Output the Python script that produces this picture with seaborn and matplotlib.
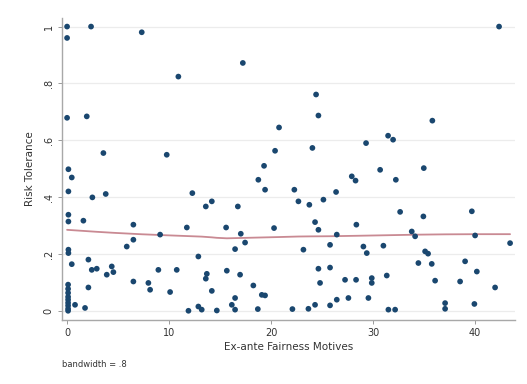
import numpy as np
import pandas as pd
import matplotlib
matplotlib.use("Agg")
import matplotlib.pyplot as plt
import seaborn as sns

# Ex-ante fairness motives (x) and risk tolerance (y) per respondent
fairness = [
    0.0, 2.35, 0.0, 7.32, 10.91, 0.0, 1.93, 3.56, 9.77, 0.13,
    0.46, 0.13, 2.48, 3.79, 12.28, 13.6, 0.13, 0.13, 1.6, 6.5,
    11.74, 9.12, 6.5, 5.85, 0.13, 0.13, 12.87, 0.46, 2.09, 2.42,
    2.91, 4.38, 4.54, 3.89, 8.95, 10.75, 13.6, 6.5, 7.97, 8.14,
    10.1, 2.09, 0.1, 0.1, 0.1, 0.1, 0.1, 0.1, 0.1, 0.1,
    0.1, 0.78, 1.76, 11.9, 12.87, 13.2, 17.23, 24.41, 24.64, 20.78,
    20.39, 24.05, 19.31, 42.35, 35.81, 31.47, 31.96, 29.31, 30.69, 34.97,
    18.75, 19.41, 22.28, 27.91, 28.28, 26.37, 25.13, 22.68, 23.75, 14.19,
    16.74, 15.59, 17.03, 17.45, 16.47, 20.29, 24.31, 24.64, 26.44, 25.78,
    28.36, 23.17, 24.64, 25.78, 24.8, 13.7, 15.66, 16.96, 14.19, 18.26,
    19.09, 19.41, 16.47, 16.15, 16.47, 14.68, 18.7, 22.09, 23.66, 24.31,
    25.78, 26.44, 27.58, 27.25, 28.33, 32.23, 32.65, 34.93, 39.68, 33.79,
    34.12, 40.0, 43.43, 29.05, 29.38, 31.01, 35.1, 35.39, 34.44, 35.75,
    39.02, 29.87, 29.87, 31.34, 36.08, 38.53, 40.17, 41.96, 29.54, 31.5,
    32.16, 37.06, 37.06, 39.93,
]
risk = [
    1.0, 1.0, 0.96, 0.98, 0.824, 0.679, 0.684, 0.555, 0.549, 0.498,
    0.469, 0.42, 0.399, 0.411, 0.414, 0.367, 0.338, 0.314, 0.317, 0.303,
    0.293, 0.268, 0.25, 0.226, 0.215, 0.203, 0.191, 0.164, 0.18, 0.144,
    0.148, 0.156, 0.136, 0.127, 0.144, 0.144, 0.113, 0.103, 0.098, 0.074,
    0.066, 0.082, 0.092, 0.077, 0.063, 0.049, 0.039, 0.028, 0.018, 0.007,
    0.0, 0.021, 0.01, 0.0, 0.015, 0.004, 0.872, 0.761, 0.687, 0.645,
    0.563, 0.573, 0.51, 1.0, 0.669, 0.616, 0.602, 0.59, 0.496, 0.502,
    0.461, 0.426, 0.426, 0.473, 0.458, 0.418, 0.391, 0.385, 0.373, 0.385,
    0.367, 0.293, 0.271, 0.24, 0.217, 0.291, 0.312, 0.285, 0.268, 0.232,
    0.303, 0.215, 0.148, 0.152, 0.098, 0.13, 0.141, 0.127, 0.07, 0.089,
    0.056, 0.054, 0.045, 0.021, 0.004, 0.001, 0.006, 0.006, 0.007, 0.021,
    0.019, 0.039, 0.045, 0.109, 0.109, 0.461, 0.348, 0.332, 0.35, 0.279,
    0.262, 0.265, 0.238, 0.226, 0.203, 0.229, 0.209, 0.201, 0.168, 0.165,
    0.174, 0.115, 0.098, 0.124, 0.106, 0.103, 0.138, 0.082, 0.045, 0.004,
    0.004, 0.027, 0.007, 0.024,
]

y_ticks = [0, 0.2, 0.4, 0.6, 0.8, 1.0]
y_tick_labels = ["0", ".2", ".4", ".6", ".8", "1"]
x_ticks = [0, 10, 20, 30, 40]
x_tick_labels = ["0", "10", "20", "30", "40"]
bandwidth = 0.8


def lowess(x, y, bw):
    """Running-line lowess with tricube weights (no robustness steps)."""
    x = np.asarray(x, float)
    y = np.asarray(y, float)
    n = len(x)
    k = max(int(np.floor(bw * n)), 2)
    fit = np.empty(n)
    for i in range(n):
        d = np.abs(x - x[i])
        idx = np.argsort(d)[:k]
        h = d[idx].max() * 1.0001
        w = (1 - (d[idx] / h) ** 3) ** 3
        xs, ys = x[idx], y[idx]
        sw = w.sum()
        xm = (w * xs).sum() / sw
        ym = (w * ys).sum() / sw
        sxx = (w * (xs - xm) ** 2).sum()
        b = (w * (xs - xm) * (ys - ym)).sum() / sxx if sxx > 0 else 0.0
        fit[i] = ym + b * (x[i] - xm)
    order = np.argsort(x)
    return x[order], fit[order]


df = pd.DataFrame({"fairness": fairness, "risk": risk})
lx, ly = lowess(df["fairness"], df["risk"], bandwidth)
smooth = pd.DataFrame({"fairness": lx, "risk": ly})

sns.set_theme(style="white")
plt.rcParams["font.family"] = ["DejaVu Sans"]

fig = plt.figure(figsize=(5.27, 3.84), dpi=100)
ax = fig.add_axes([0.1176, 0.167, 0.8594, 0.786])

for t in y_ticks:
    ax.axhline(t, color="#ececec", lw=0.9, zorder=0)

sns.scatterplot(data=df, x="fairness", y="risk", ax=ax, color="#1a476f",
                s=17, edgecolor="none", zorder=3)
sns.lineplot(data=smooth, x="fairness", y="risk", ax=ax, color="#c98a93",
             lw=1.3, estimator=None, sort=True, zorder=2)

ax.set_xlim(-0.5, 43.9)
ax.set_ylim(-0.032, 1.03)
ax.set_xticks(x_ticks)
ax.set_xticklabels(x_tick_labels, fontsize=7, color="#333333")
ax.set_yticks(y_ticks)
ax.set_yticklabels(y_tick_labels, fontsize=7, color="#333333",
                   rotation=90, va="center")
ax.tick_params(axis="both", length=3, width=0.7, color="#9a9a9a",
               direction="out", pad=3)
ax.tick_params(axis="both", which="both", bottom=True, left=True)

for side in ["top", "right"]:
    ax.spines[side].set_visible(False)
for side in ["left", "bottom"]:
    ax.spines[side].set_color("#a8a8a8")
    ax.spines[side].set_linewidth(1.0)

ax.set_xlabel("Ex-ante Fairness Motives", fontsize=7.5, color="#333333",
              labelpad=3)
ax.set_ylabel("Risk Tolerance", fontsize=7.5, color="#333333", labelpad=6)

fig.text(0.118, 0.05, "bandwidth = .8", fontsize=6, color="#333333",
         ha="left", va="center")

fig.savefig("out.png", dpi=100, facecolor="white")
